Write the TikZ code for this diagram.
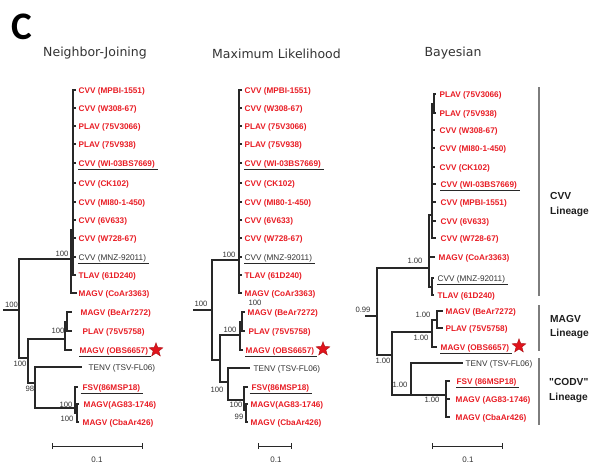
\documentclass[tikz,border=0pt]{standalone}
\usepackage{fontspec}
\setmainfont{Liberation Sans}
\newfontfamily\titlefont{DejaVu Sans}
\newfontfamily\bigfont{Carlito}
\newfontfamily\linfont{Liberation Sans}[Ligatures=TeXOff]
\usetikzlibrary{shapes.geometric,arrows.meta}
\definecolor{tred}{RGB}{232,28,36}
\definecolor{tk}{RGB}{51,51,51}
\definecolor{lc}{RGB}{40,40,40}
\definecolor{barc}{RGB}{125,125,125}
\begin{document}
\begin{tikzpicture}[x=1pt,y=-1pt,
  br/.style={draw=lc,line width=1.05pt},
  lr/.style={font=\fontsize{8.2}{9}\selectfont\bfseries,text=tred,anchor=west,inner sep=0.5pt,text height=6pt,text depth=0pt},
  lk/.style={font=\fontsize{8.2}{9}\selectfont,text=tk,anchor=west,inner sep=0.5pt,text height=6pt,text depth=0pt},
  supp/.style={font=\fontsize{7.7}{8}\selectfont,text=tk,inner sep=0pt},
  ul/.style={draw=lc,line width=1pt},
  ttl/.style={font=\titlefont\fontsize{12.5}{14}\selectfont,text=tk},
  rstar/.style={star,star points=5,star point ratio=2.4,fill={rgb,255:red,225;green,20;blue,28},draw={rgb,255:red,170;green,10;blue,15},line width=0.4pt,minimum size=14.5pt,inner sep=0pt},
  sbar/.style={draw=lc,line width=1pt,{Bar[width=6pt]}-{Bar[width=6pt]}},
  sbl/.style={font=\fontsize{8}{9}\selectfont,text=tk},
  lbar/.style={draw=barc,line width=1.2pt},
  lin/.style={font=\linfont\fontsize{10.2}{14.5}\selectfont\bfseries,text={rgb,255:red,30;green,30;blue,30},anchor=west,align=left,inner sep=0pt}
]
\useasboundingbox (0,0) rectangle (592,463);

% panel letter and titles
\node[font=\bigfont\bfseries\fontsize{39}{40}\selectfont,inner sep=0pt] (letter) at (22,27) {C};
\node[ttl] (tnj) at (95,53) {Neighbor-Joining};
\node[ttl] (tml) at (276.5,54) {Maximum Likelihood};
\node[ttl] (tby) at (453,53) {Bayesian};

% ================= Neighbor-Joining =================
\node[lr] (nj1) at (78,90) {CVV (MPBI-1551)};
\node[lr] (nj2) at (78,108) {CVV (W308-67)};
\node[lr] (nj3) at (78,126) {PLAV (75V3066)};
\node[lr] (nj4) at (78,144) {PLAV (75V938)};
\node[lr] (nj5) at (78,163) {CVV (WI-03BS7669)};
\node[lr] (nj6) at (78,183) {CVV (CK102)};
\node[lr] (nj7) at (78,202) {CVV (MI80-1-450)};
\node[lr] (nj8) at (78,220) {CVV (6V633)};
\node[lr] (nj9) at (78,238) {CVV (W728-67)};
\node[lk] (nj10) at (78,257) {CVV (MNZ-92011)};
\node[lr] (nj11) at (78,275) {TLAV (61D240)};
\node[lr] (nj12) at (78,293) {MAGV (CoAr3363)};
\node[lr] (nj13) at (80,312) {MAGV (BeAr7272)};
\node[lr] (nj14) at (82,331) {PLAV (75V5758)};
\node[lr] (nj15) at (79,350) {MAGV (OBS6657)};
\node[lk] (nj16) at (88,367) {TENV (TSV-FL06)};
\node[lr] (nj17) at (82,387) {FSV(86MSP18)};
\node[lr] (nj18) at (83,404) {MAGV(AG83-1746)};
\node[lr] (nj19) at (82,422) {MAGV (CbaAr426)};

\coordinate (njr0) at (3,310);
\coordinate (njR) at (19,310);
\coordinate (njB) at (71,259);
\coordinate (njA) at (73,230);
\coordinate (njN) at (28,358);
\coordinate (njM) at (65,339);
\coordinate (njM2) at (67,322);
\coordinate (njT) at (35,383);
\coordinate (njC) at (75,408);
\coordinate (njC2) at (77,413);

\draw[br] (njr0) -- (njR);
\draw[br] (njR) |- (njB);
\draw[br] (njR) |- (njN);
\draw[br] (njB) |- (njA);
\draw[br,shorten >=1.5pt] (njB) |- (nj12);
\foreach \i in {1,...,11} {\draw[br,shorten >=2pt] (njA) |- (nj\i);}
\draw[br] (njN) |- (njM);
\draw[br] (njN) |- (njT);
\draw[br] (njM) |- (njM2);
\draw[br,shorten >=7pt] (njM) |- (nj15);
\draw[br,shorten >=8pt] (njM2) |- (nj13);
\draw[br,shorten >=10pt] (njM2) |- (nj14);
\draw[br,shorten >=6pt] (njT) |- (nj16);
\draw[br] (njT) |- (njC);
\draw[br,shorten >=4pt] (njC) |- (nj17);
\draw[br] (njC) |- (njC2);
\draw[br,shorten >=4pt] (njC2) |- (nj18);
\draw[br,shorten >=3pt] (njC2) |- (nj19);

\node[supp] (njs1) at (11.5,305) {100};
\node[supp] (njs2) at (62,254) {100};
\node[supp] (njs3) at (20,364) {100};
\node[supp] (njs4) at (58,331) {100};
\node[supp] (njs5) at (30,389) {98};
\node[supp] (njs6) at (66,405) {100};
\node[supp] (njs7) at (67,419) {100};

\draw[ul] ([yshift=-2.5pt]nj5.south west) -- ([xshift=2pt,yshift=-2.5pt]nj5.south east);
\draw[ul] ([yshift=-2.5pt]nj10.south west) -- ([xshift=2pt,yshift=-2.5pt]nj10.south east);
\draw[ul] ([yshift=-2.5pt]nj15.south west) -- ([xshift=2pt,yshift=-2.5pt]nj15.south east);
\draw[ul] ([xshift=-1.5pt,yshift=-2.5pt]nj17.south west) -- ([xshift=2pt,yshift=-2.5pt]nj17.south east);
\node[rstar] (njstar) at (156,350) {};

\coordinate (njsb1) at (52,446);
\coordinate (njsb2) at (143,446);
\draw[sbar] (njsb1) -- (njsb2);
\node[sbl] (njsbl) at (97,460) {0.1};

% ================= Maximum Likelihood =================
\node[lr] (ml1) at (244,90) {CVV (MPBI-1551)};
\node[lr] (ml2) at (244,108) {CVV (W308-67)};
\node[lr] (ml3) at (244,126) {PLAV (75V3066)};
\node[lr] (ml4) at (244,144) {PLAV (75V938)};
\node[lr] (ml5) at (244,163) {CVV (WI-03BS7669)};
\node[lr] (ml6) at (244,183) {CVV (CK102)};
\node[lr] (ml7) at (244,202) {CVV (MI80-1-450)};
\node[lr] (ml8) at (244,220) {CVV (6V633)};
\node[lr] (ml9) at (244,238) {CVV (W728-67)};
\node[lk] (ml10) at (244,257) {CVV (MNZ-92011)};
\node[lr] (ml11) at (244,275) {TLAV (61D240)};
\node[lr] (ml12) at (244,293) {MAGV (CoAr3363)};
\node[lr] (ml13) at (247,312) {MAGV (BeAr7272)};
\node[lr] (ml14) at (248,331) {PLAV (75V5758)};
\node[lr] (ml15) at (245,350) {MAGV (OBS6657)};
\node[lk] (ml16) at (253,368) {TENV (TSV-FL06)};
\node[lr] (ml17) at (251,387) {FSV(86MSP18)};
\node[lr] (ml18) at (250,404) {MAGV(AG83-1746)};
\node[lr] (ml19) at (250,422) {MAGV (CbaAr426)};

\coordinate (mlr0) at (193,310);
\coordinate (mlR) at (212,310);
\coordinate (mlA) at (239,260);
\coordinate (mlN) at (220,360);
\coordinate (mlM) at (240,335);
\coordinate (mlM2) at (242,322);
\coordinate (mlT) at (228,382);
\coordinate (mlC) at (244,400);
\coordinate (mlC2) at (246,410);

\draw[br] (mlr0) -- (mlR);
\draw[br] (mlR) |- (mlA);
\draw[br] (mlR) |- (mlN);
\foreach \i in {1,...,12} {\draw[br,shorten >=2pt] (mlA) |- (ml\i);}
\draw[br] (mlN) |- (mlM);
\draw[br] (mlN) |- (mlT);
\draw[br] (mlM) |- (mlM2);
\draw[br,shorten >=2pt] (mlM) |- (ml15);
\draw[br,shorten >=2pt] (mlM2) |- (ml13);
\draw[br,shorten >=3pt] (mlM2) |- (ml14);
\draw[br,shorten >=3pt] (mlT) |- (ml16);
\draw[br] (mlT) |- (mlC);
\draw[br,shorten >=3pt] (mlC) |- (ml17);
\draw[br] (mlC) |- (mlC2);
\draw[br,shorten >=2pt] (mlC2) |- (ml18);
\draw[br,shorten >=2pt] (mlC2) |- (ml19);

\node[supp] (mls1) at (201,304) {100};
\node[supp] (mls2) at (229,255) {100};
\node[supp] (mls3) at (230,330) {100};
\node[supp] (mls4) at (255,303) {100};
\node[supp] (mls5) at (217,390) {100};
\node[supp] (mls6) at (236,405) {100};
\node[supp] (mls7) at (239,417) {99};

\draw[ul] ([yshift=-2.5pt]ml5.south west) -- ([xshift=2pt,yshift=-2.5pt]ml5.south east);
\draw[ul] ([yshift=-2.5pt]ml10.south west) -- ([xshift=2pt,yshift=-2.5pt]ml10.south east);
\draw[ul] ([yshift=-2.5pt]ml15.south west) -- ([xshift=2pt,yshift=-2.5pt]ml15.south east);
\draw[ul] ([xshift=-1.5pt,yshift=-2.5pt]ml17.south west) -- ([xshift=2pt,yshift=-2.5pt]ml17.south east);
\node[rstar] (mlstar) at (323,349) {};

\coordinate (mlsb1) at (258,446);
\coordinate (mlsb2) at (292,446);
\draw[sbar] (mlsb1) -- (mlsb2);
\node[sbl] (mlsbl) at (276,460) {0.1};

% ================= Bayesian =================
\node[lr] (by1) at (439,94) {PLAV (75V3066)};
\node[lr] (by2) at (439,113) {PLAV (75V938)};
\node[lr] (by3) at (439,130) {CVV (W308-67)};
\node[lr] (by4) at (439,148) {CVV (MI80-1-450)};
\node[lr] (by5) at (439,167) {CVV (CK102)};
\node[lr] (by6) at (440,184) {CVV (WI-03BS7669)};
\node[lr] (by7) at (440,202) {CVV (MPBI-1551)};
\node[lr] (by8) at (440,221) {CVV (6V633)};
\node[lr] (by9) at (440,238) {CVV (W728-67)};
\node[lr] (by10) at (438,257) {MAGV (CoAr3363)};
\node[lk] (by11) at (437,278) {CVV (MNZ-92011)};
\node[lr] (by12) at (437,295) {TLAV (61D240)};
\node[lr] (by13) at (445,311) {MAGV (BeAr7272)};
\node[lr] (by14) at (445,328) {PLAV (75V5758)};
\node[lr] (by15) at (440,347) {MAGV (OBS6657)};
\node[lk] (by16) at (465,363) {TENV (TSV-FL06)};
\node[lr] (by17) at (456,381) {FSV (86MSP18)};
\node[lr] (by18) at (455,399) {MAGV (AG83-1746)};
\node[lr] (by19) at (455,417) {MAGV (CbaAr426)};

\coordinate (byr0) at (365,316);
\coordinate (byR) at (377,316);
\coordinate (byB) at (429,268);
\coordinate (byA) at (432,215);
\coordinate (byP) at (434,104);
\coordinate (byMT) at (432,287);
\coordinate (byX) at (392,355);
\coordinate (byM) at (432,332);
\coordinate (byM2) at (437,320);
\coordinate (byT) at (411,395);
\coordinate (byC) at (446,395);

\draw[br] (byr0) -- (byR);
\draw[br] (byR) |- (byB);
\draw[br] (byR) |- (byX);
\draw[br] (byB) |- (byA);
\draw[br,shorten >=3pt] (byB) |- (by10);
\draw[br] (byB) |- (byMT);
\draw[br] (byA) |- (byP);
\foreach \i in {3,...,9} {\draw[br,shorten >=4pt] (byA) |- (by\i);}
\draw[br,shorten >=3pt] (byP) |- (by1);
\draw[br,shorten >=3pt] (byP) |- (by2);
\draw[br,shorten >=3pt] (byMT) |- (by11);
\draw[br,shorten >=3pt] (byMT) |- (by12);
\draw[br] (byX) |- (byM);
\draw[br] (byX) |- (byT);
\draw[br] (byM) |- (byM2);
\draw[br,shorten >=3pt] (byM) |- (by15);
\draw[br,shorten >=2pt] (byM2) |- (by13);
\draw[br,shorten >=2pt] (byM2) |- (by14);
\draw[br,shorten >=2pt] (byT) |- (by16);
\draw[br] (byT) -- (byC);
\draw[br,shorten >=6pt] (byC) |- (by17);
\draw[br,shorten >=5pt] (byC) |- (by18);
\draw[br,shorten >=5pt] (byC) |- (by19);

\node[supp] (bys1) at (363,310) {0.99};
\node[supp] (bys2) at (415,261) {1.00};
\node[supp] (bys3) at (383,361) {1.00};
\node[supp] (bys4) at (421,338) {1.00};
\node[supp] (bys5) at (423,315) {1.00};
\node[supp] (bys6) at (400,385) {1.00};
\node[supp] (bys7) at (432,400) {1.00};

\draw[ul] ([yshift=-2.5pt]by6.south west) -- ([xshift=2pt,yshift=-2.5pt]by6.south east);
\draw[ul] ([yshift=-2.5pt]by11.south west) -- ([xshift=2pt,yshift=-2.5pt]by11.south east);
\draw[ul] ([yshift=-2.5pt]by15.south west) -- ([xshift=2pt,yshift=-2.5pt]by15.south east);
\draw[ul] ([yshift=-2.5pt]by17.south west) -- ([xshift=2pt,yshift=-2.5pt]by17.south east);
\node[rstar] (bystar) at (519,346) {};

\coordinate (bysb1) at (432,446);
\coordinate (bysb2) at (503,446);
\draw[sbar] (bysb1) -- (bysb2);
\node[sbl] (bysbl) at (468,460) {0.1};

% lineage bars and labels
\coordinate (lb1a) at (539,87);
\coordinate (lb1b) at (539,296);
\coordinate (lb2a) at (539,305);
\coordinate (lb2b) at (539,351);
\coordinate (lb3a) at (539,358);
\coordinate (lb3b) at (539,425);
\draw[lbar] (lb1a) -- (lb1b);
\draw[lbar] (lb2a) -- (lb2b);
\draw[lbar] (lb3a) -- (lb3b);
\node[lin] (lcvv) at (550,204.5) {CVV\\Lineage};
\node[lin] (lmagv) at (550,327) {MAGV\\Lineage};
\node[lin] (lcodv) at (549,390.5) {"CODV"\\Lineage};
\end{tikzpicture}
\end{document}
